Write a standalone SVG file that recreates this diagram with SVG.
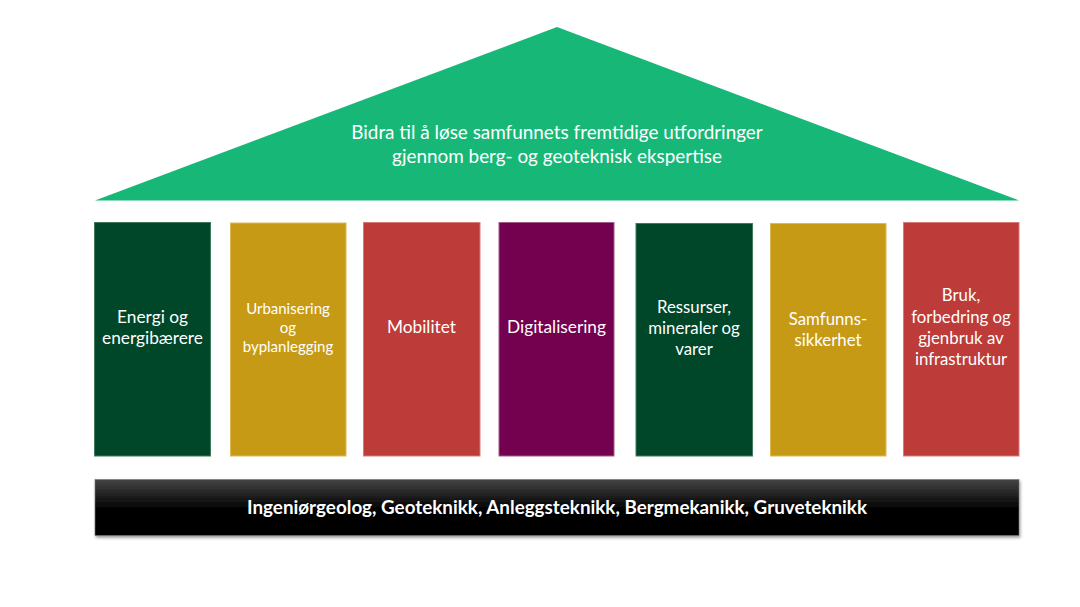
<svg xmlns="http://www.w3.org/2000/svg" width="1080" height="607" viewBox="0 0 1080 607">
<style>
.t{font-family:Lato,"Liberation Sans",sans-serif;fill:#ffffff;text-anchor:middle}
.p{font-size:17.3px}
.s{font-size:16.8px}
.u{font-size:15px}
.title{font-size:18.9px}
.base{font-size:19px;font-weight:bold}
.dg{fill:#00472A;stroke:#3f7a5c;stroke-width:1}
.go{fill:#C79A15;stroke:#dcb955;stroke-width:1}
.rd{fill:#BD3B38;stroke:#d67a76;stroke-width:1}
.pu{fill:#740050;stroke:#a05a88;stroke-width:1}
</style>
<defs>
<linearGradient id="barg" x1="0" y1="0" x2="0" y2="1">
<stop offset="0" stop-color="#444444"/>
<stop offset="0.5" stop-color="#050505"/>
<stop offset="1" stop-color="#000000"/>
</linearGradient>
<filter id="sh" x="-5%" y="-20%" width="110%" height="150%">
<feDropShadow dx="1" dy="2" stdDeviation="1.5" flood-color="#000" flood-opacity="0.4"/>
</filter>
</defs>
<rect width="1080" height="607" fill="#ffffff"/>
<g id="roof">
<polygon points="557,27 1019,200.5 95,200.5" fill="#17B877"/>
<text class="t title" x="557" y="139">Bidra til å løse samfunnets fremtidige utfordringer</text>
<text class="t title" x="557" y="162.5">gjennom berg- og geoteknisk ekspertise</text>
</g>
<g id="p1">
<rect class="dg" x="94.5" y="222.5" width="116" height="233.5"/>
<text class="t p" x="152.5" y="323">Energi og</text>
<text class="t p" x="152.5" y="344">energibærere</text>
</g>
<g id="p2">
<rect class="go" x="230.5" y="223" width="115.5" height="233"/>
<text class="t u" x="288" y="313.5">Urbanisering</text>
<text class="t u" x="288" y="332.5">og</text>
<text class="t u" x="288" y="351.5">byplanlegging</text>
</g>
<g id="p3">
<rect class="rd" x="363.5" y="222.5" width="116.5" height="233.5"/>
<text class="t p" x="421.5" y="333">Mobilitet</text>
</g>
<g id="p4">
<rect class="pu" x="499" y="222.5" width="115" height="233.5"/>
<text class="t p" x="556.5" y="333">Digitalisering</text>
</g>
<g id="p5">
<rect class="dg" x="636" y="223.5" width="116.5" height="232.5"/>
<text class="t s" x="694" y="313">Ressurser,</text>
<text class="t s" x="694" y="334">mineraler og</text>
<text class="t s" x="694" y="355">varer</text>
</g>
<g id="p6">
<rect class="go" x="770.5" y="223.5" width="115.5" height="232.5"/>
<text class="t s" x="828" y="324.5">Samfunns-</text>
<text class="t s" x="828" y="345.5">sikkerhet</text>
</g>
<g id="p7">
<rect class="rd" x="903.5" y="222.5" width="115.5" height="233.5"/>
<text class="t s" x="961" y="301">Bruk,</text>
<text class="t s" x="961" y="323">forbedring og</text>
<text class="t s" x="961" y="344">gjenbruk av</text>
<text class="t s" x="961" y="365">infrastruktur</text>
</g>
<g id="foundation">
<rect x="95" y="479.5" width="924" height="56" fill="url(#barg)" stroke="#777" stroke-width="0.6" filter="url(#sh)"/>
<text class="t base" x="557" y="514" textLength="620" lengthAdjust="spacingAndGlyphs">Ingeniørgeolog, Geoteknikk, Anleggsteknikk, Bergmekanikk, Gruveteknikk</text>
</g>
<g id="connectors"/>
</svg>
